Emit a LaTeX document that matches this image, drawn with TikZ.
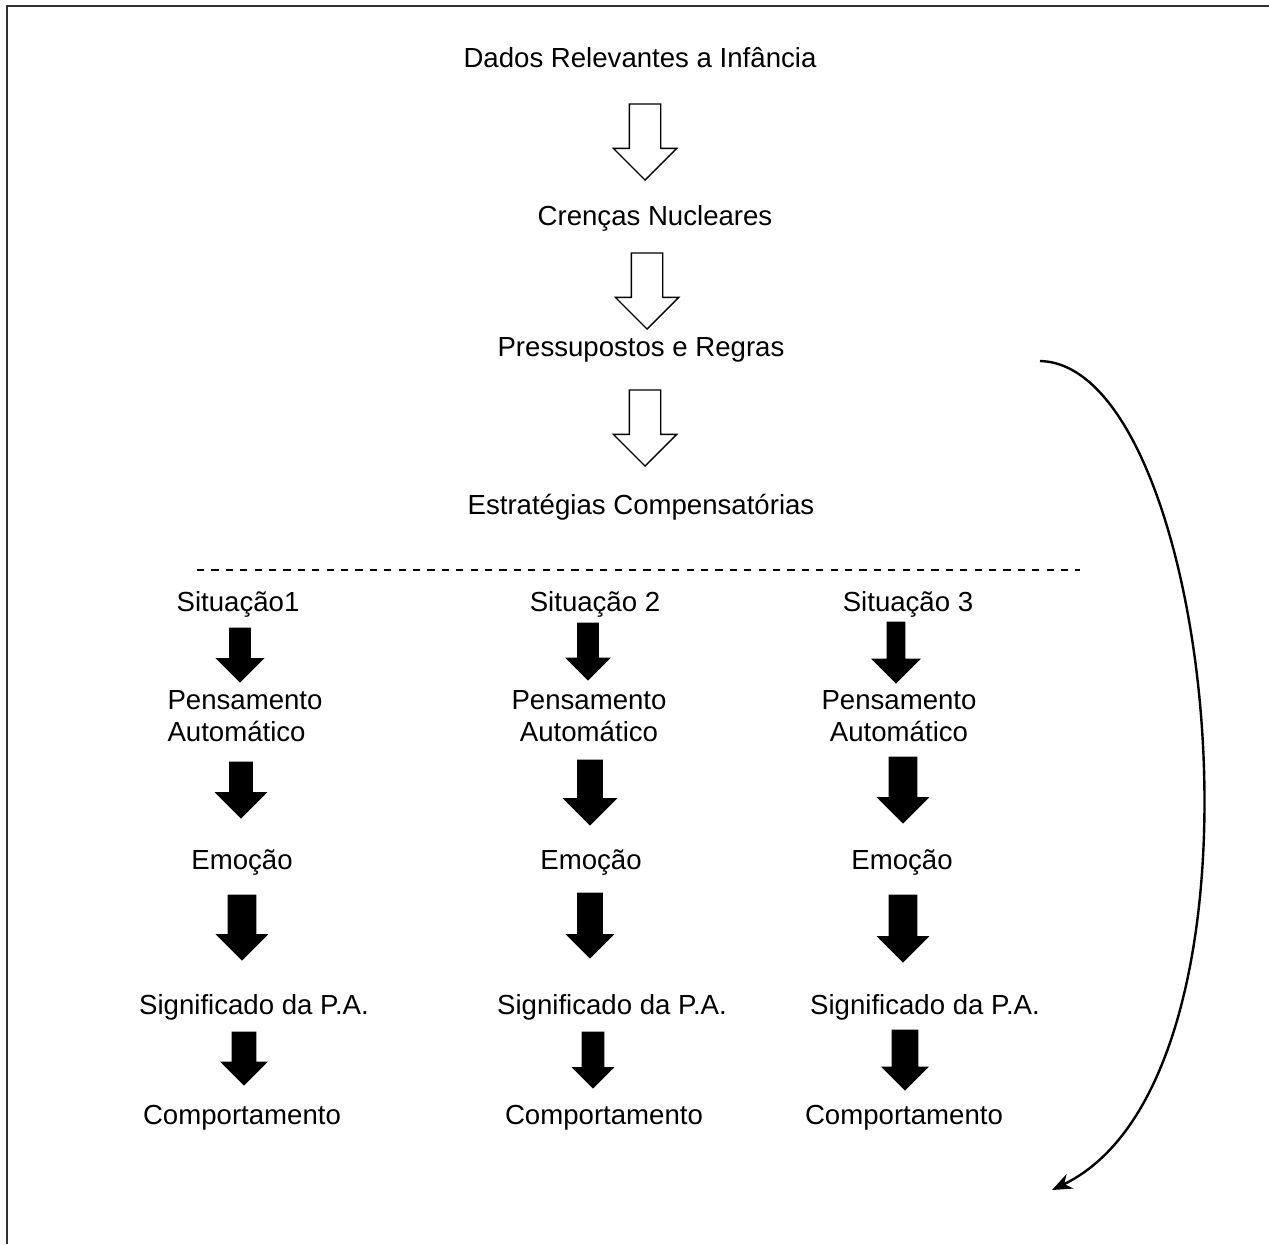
\documentclass[tikz,border=0pt]{standalone}
\usepackage{fontspec}
\setmainfont{Liberation Sans}
\usepackage{tikz}
\usetikzlibrary{arrows.meta,shapes.arrows}
\tikzset{
  texto/.style = {font=\fontsize{13.8}{16}\selectfont, inner sep=0pt,
    anchor=base},% uma linha
  texto_d/.style = {font=\fontsize{13.8}{16}\selectfont, inner sep=0pt,
    align=center},% duas linhas
  seta/.style = {single arrow, rotate=-90, anchor=tail, outer sep=0pt,
    inner xsep=0pt, minimum width=0pt},
  seta_b/.style = {seta, draw=black, fill=white, line width=0.7pt,
    minimum height=38pt, inner ysep=7.5pt,
    single arrow head extend=8pt},% seta branca
  seta_p/.style n args = {3}{seta, draw=black, fill=black, line width=0.4pt,
    minimum height=#1, inner ysep=#2,
    single arrow head extend=#3},% seta preta
  curva/.style = {line width=1.2pt, -{Stealth[length=10pt,width=8pt]}},
  tracejado/.style = {line width=0.7pt, dash pattern=on 3.6pt off 3.6pt},
  moldura/.style = {line width=1pt, draw=black!80}
}

\begin{document}
\begin{tikzpicture}[x=0.5pt, y=-0.5pt]
  \useasboundingbox (0,0) rectangle (1269,1244);
  \draw[moldura] (1269,6) -- (7,6) -- (7,1244);

  % parte de cima
  \node[texto] (dados) at (640,67) {Dados Relevantes a Infância};
  \node[seta_b] (sb1) at (645,104) {};
  \node[texto] (crencas) at (655,225) {Crenças Nucleares};
  \node[seta_b] (sb2) at (647,253) {};
  \node[texto] (pressupostos) at (641,356) {Pressupostos e Regras};
  \node[seta_b] (sb3) at (645,390) {};
  \node[texto] (estrategias) at (641,514) {Estratégias Compensatórias};

  \draw[tracejado] (197,570) -- (1080,570);

  % situacao 1
  \node[texto] (sit1) at (238,611) {Situação1};
  \node[seta_p={27pt}{5pt}{6.5pt}] (sp11) at (240,628) {};
  \node[texto_d, align=left] (pa1) at (245,716) {Pensamento\\Automático};
  \node[seta_p={28pt}{5.5pt}{7pt}] (sp12) at (241,762) {};
  \node[texto] (emo1) at (242,869) {Emoção};
  \node[seta_p={32.5pt}{6.75pt}{5.75pt}] (sp13) at (242,895) {};
  \node[texto] (sig1) at (254,1014) {Significado da P.A.};
  \node[seta_p={26.5pt}{5.75pt}{5.5pt}] (sp14) at (244,1032) {};
  \node[texto] (comp1) at (242,1124) {Comportamento};

  % situacao 2
  \node[texto] (sit2) at (595,611) {Situação 2};
  \node[seta_p={28.5pt}{5pt}{5.75pt}] (sp21) at (588,623) {};
  \node[texto_d] (pa2) at (589,716) {Pensamento\\Automático};
  \node[seta_p={32.5pt}{6pt}{7pt}] (sp22) at (590,760) {};
  \node[texto] (emo2) at (591,869) {Emoção};
  \node[seta_p={32.5pt}{6pt}{5.5pt}] (sp23) at (590,893) {};
  \node[texto] (sig2) at (612,1014) {Significado da P.A.};
  \node[seta_p={28pt}{5.25pt}{4.75pt}] (sp24) at (593,1032) {};
  \node[texto] (comp2) at (604,1124) {Comportamento};

  % situacao 3
  \node[texto] (sit3) at (908,611) {Situação 3};
  \node[seta_p={30.5pt}{4.25pt}{7.5pt}] (sp31) at (896,622) {};
  \node[texto_d] (pa3) at (899,716) {Pensamento\\Automático};
  \node[seta_p={33pt}{6.75pt}{5.75pt}] (sp32) at (903,757) {};
  \node[texto] (emo3) at (902,869) {Emoção};
  \node[seta_p={33.5pt}{6.75pt}{5.75pt}] (sp33) at (903,895) {};
  \node[texto] (sig3) at (925,1014) {Significado da P.A.};
  \node[seta_p={30pt}{6.25pt}{5pt}] (sp34) at (905,1030) {};
  \node[texto] (comp3) at (904,1124) {Comportamento};

  % volta
  \coordinate (ini) at (1040,361);
  \coordinate (fim) at (1052,1190);
  \draw[curva] (ini) .. controls (1215,365) and (1290,1075) .. (fim);
\end{tikzpicture}
\end{document}
